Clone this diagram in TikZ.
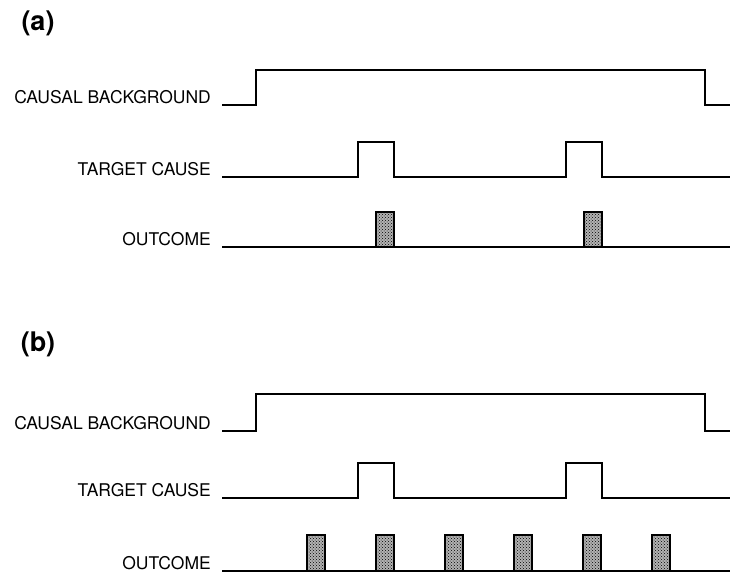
\documentclass[tikz,border=0pt]{standalone}
\usepackage{fontspec}
\setmainfont{TeX Gyre Heros}
\usetikzlibrary{patterns}
\begin{document}
\begin{tikzpicture}[x=1pt,y=-1pt,
  sig/.style={line width=1.5pt, line join=miter},
  lbl/.style={anchor=base east, inner sep=0pt, font=\fontsize{17.5}{20}\selectfont},
  panel/.style={inner sep=0pt, font=\fontsize{27}{30}\selectfont\bfseries},
  pulse/.style={draw, line width=2.6pt, preaction={fill=black!30}, pattern=crosshatch dots}]
\useasboundingbox (0,0) rectangle (730,573);

% ---------- panel (a) ----------
\node[panel] (pa) at (38,23) {(a)};
\node[lbl] (cba) at (211,103) {CAUSAL BACKGROUND};
\node[lbl] (tca) at (211,175) {TARGET CAUSE};
\node[lbl] (oca) at (211,245) {OUTCOME};
\coordinate (cba0) at (222,105);
\coordinate (tca0) at (222,177);
\coordinate (oca0) at (222,247);
\draw[sig] (cba0) -- (256,105) -- (256,70) -- (705,70) -- (705,105) -- (730,105);
\draw[sig] (tca0) -- (358,177) -- (358,142) -- (394,142) -- (394,177)
  -- (566,177) -- (566,142) -- (602,142) -- (602,177) -- (730,177);
\draw[sig] (oca0) -- (730,247);
\foreach \px in {376,584}
  \draw[pulse] (\px,212) rectangle (\px+18,247);

% ---------- panel (b) ----------
\node[panel] (pb) at (38,344) {(b)};
\node[lbl] (cbb) at (211,429) {CAUSAL BACKGROUND};
\node[lbl] (tcb) at (211,496) {TARGET CAUSE};
\node[lbl] (ocb) at (211,569) {OUTCOME};
\coordinate (cbb0) at (222,431);
\coordinate (tcb0) at (222,498);
\coordinate (ocb0) at (222,571);
\draw[sig] (cbb0) -- (256,431) -- (256,394) -- (705,394) -- (705,431) -- (730,431);
\draw[sig] (tcb0) -- (358,498) -- (358,463) -- (394,463) -- (394,498)
  -- (566,498) -- (566,463) -- (602,463) -- (602,498) -- (730,498);
\draw[sig] (ocb0) -- (730,571);
\foreach \px in {307,376,445,514,583,652}
  \draw[pulse] (\px,535) rectangle (\px+18,571);
\end{tikzpicture}
\end{document}
